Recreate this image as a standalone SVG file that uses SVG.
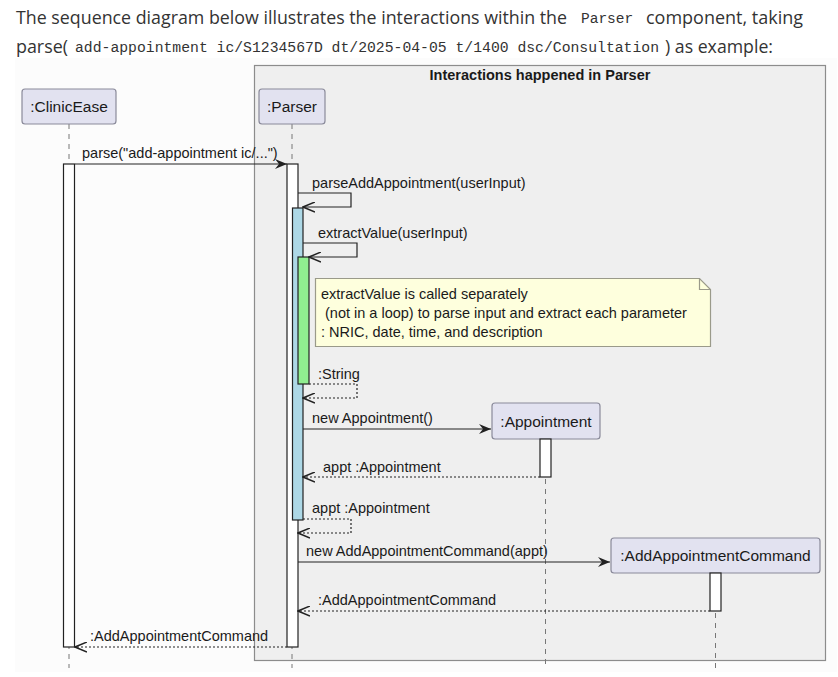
<svg xmlns="http://www.w3.org/2000/svg" width="838" height="677" viewBox="0 0 838 677">
<style>
.hdr{font-family:"Open Sans","Noto Sans",sans-serif;font-size:17.5px;fill:#333}
.code{font-family:"Liberation Mono","DejaVu Sans Mono",monospace;font-size:14.5px;fill:#333}
.t{font-family:"Liberation Sans",Arial,sans-serif;font-size:14.5px;fill:#1a1a1a}
.pt{font-family:"Liberation Sans",Arial,sans-serif;font-size:15.5px;fill:#1a1a1a;text-anchor:middle}
.ttl{font-family:"Liberation Sans",Arial,sans-serif;font-size:14.5px;font-weight:bold;fill:#1a1a1a;text-anchor:middle}
.part{fill:#E2E2F0;stroke:#8a8a9a;stroke-width:1.2}
.life{stroke:#777;stroke-width:1;stroke-dasharray:5,5;fill:none}
.act{fill:#fff;stroke:#222;stroke-width:1.2}
.msg{stroke:#222;stroke-width:1.2;fill:none}
.ret{stroke:#222;stroke-width:1.2;fill:none;stroke-dasharray:2,2}
</style>
<defs>
<marker id="ah" markerUnits="userSpaceOnUse" markerWidth="13" markerHeight="11" viewBox="0 0 13 11" refX="12" refY="5.5" orient="auto">
<path d="M0,0.5 L12,5.5 L0,10.5 L4,5.5 Z" fill="#222"/>
</marker>
<marker id="oh" markerUnits="userSpaceOnUse" markerWidth="13" markerHeight="11" viewBox="0 0 13 11" refX="12" refY="5.5" orient="auto">
<path d="M0,0.5 L12,5.5 L0,10.5" fill="none" stroke="#222" stroke-width="1.5"/>
</marker>
</defs>
<rect x="0" y="0" width="838" height="677" fill="#fff"/>
<g id="header">
<text class="hdr" x="16" y="24" textLength="551" lengthAdjust="spacingAndGlyphs">The sequence diagram below illustrates the interactions within the</text>
<text class="code" x="581" y="23">Parser</text>
<text class="hdr" x="646" y="24" textLength="157" lengthAdjust="spacingAndGlyphs">component, taking</text>
<text class="hdr" x="16" y="53" textLength="52" lengthAdjust="spacingAndGlyphs">parse(</text>
<text class="code" x="75" y="52" textLength="584" lengthAdjust="spacingAndGlyphs">add-appointment ic/S1234567D dt/2025-04-05 t/1400 dsc/Consultation</text>
<text class="hdr" x="665" y="53" textLength="108" lengthAdjust="spacingAndGlyphs">) as example:</text>
</g>
<rect x="15" y="58" width="822" height="614" fill="#FCFCFC"/>
<g id="frame">
<rect x="254.5" y="65.5" width="571" height="595" fill="#EFEFEF" stroke="#8c8c8c" stroke-width="1.2"/>
<text class="ttl" x="540" y="80">Interactions happened in Parser</text>
</g>
<g id="lifelines">
<line class="life" x1="69" y1="124" x2="69" y2="668"/>
<line class="life" x1="292" y1="124" x2="292" y2="668"/>
<line class="life" x1="545.5" y1="439" x2="545.5" y2="668"/>
<line class="life" x1="715.5" y1="573" x2="715.5" y2="668"/>
</g>
<g id="clinicease">
<rect class="part" x="22" y="89" width="94" height="35" rx="3"/>
<text class="pt" x="69" y="112">:ClinicEase</text>
<rect class="act" x="63.5" y="164" width="11" height="483"/>
</g>
<g id="parser">
<rect class="part" x="259" y="89" width="66" height="35" rx="3"/>
<text class="pt" x="292" y="112">:Parser</text>
<rect class="act" x="287" y="164" width="11" height="483"/>
<rect x="292.5" y="208" width="10.5" height="312" fill="#ADD8E6" stroke="#222" stroke-width="1.2"/>
<rect x="298" y="257" width="11" height="127" fill="#90EE90" stroke="#222" stroke-width="1.2"/>
</g>
<g id="appointment">
<rect class="part" x="492" y="403" width="108" height="36" rx="3"/>
<text class="pt" x="546" y="427">:Appointment</text>
<rect class="act" x="540" y="439" width="11" height="38"/>
</g>
<g id="addappointmentcommand">
<rect class="part" x="611" y="538" width="209" height="35" rx="3"/>
<text class="pt" x="715.5" y="561">:AddAppointmentCommand</text>
<rect class="act" x="710" y="573" width="11" height="38"/>
</g>
<g id="note">
<path d="M315.5,278.5 L699.5,278.5 L710.5,289.5 L710.5,346.5 L315.5,346.5 Z" fill="#FEFFDD" stroke="#9a9a8a" stroke-width="1.2"/>
<path d="M699.5,278.5 L699.5,289.5 L710.5,289.5" fill="none" stroke="#9a9a8a" stroke-width="1.2"/>
<text class="t" x="321" y="299">extractValue is called separately</text>
<text class="t" x="325" y="318">(not in a loop) to parse input and extract each parameter</text>
<text class="t" x="321" y="337">: NRIC, date, time, and description</text>
</g>
<g id="connectors">
<line class="msg" x1="75" y1="164" x2="287" y2="164" marker-end="url(#ah)"/>
<text class="t" x="82" y="158">parse("add-appointment ic/...")</text>
<polyline class="msg" points="298,193 351,193 351,207 303,207" marker-end="url(#oh)"/>
<text class="t" x="312" y="188">parseAddAppointment(userInput)</text>
<polyline class="msg" points="303,243 357,243 357,257 309,257" marker-end="url(#oh)"/>
<text class="t" x="318" y="238">extractValue(userInput)</text>
<polyline class="ret" points="309,384 357,384 357,398 303,398" marker-end="url(#oh)"/>
<text class="t" x="318" y="379">:String</text>
<line class="msg" x1="303" y1="429" x2="491" y2="429" marker-end="url(#ah)"/>
<text class="t" x="312" y="423">new Appointment()</text>
<line class="ret" x1="540" y1="477" x2="303" y2="477" marker-end="url(#oh)"/>
<text class="t" x="323" y="472">appt :Appointment</text>
<polyline class="ret" points="303,519 351,519 351,533 298,533" marker-end="url(#oh)"/>
<text class="t" x="312" y="513">appt :Appointment</text>
<line class="msg" x1="298" y1="562" x2="610" y2="562" marker-end="url(#ah)"/>
<text class="t" x="306" y="556">new AddAppointmentCommand(appt)</text>
<line class="ret" x1="710" y1="611" x2="298" y2="611" marker-end="url(#oh)"/>
<text class="t" x="318" y="605">:AddAppointmentCommand</text>
<line class="ret" x1="287" y1="647" x2="75" y2="647" marker-end="url(#oh)"/>
<text class="t" x="90" y="641">:AddAppointmentCommand</text>
</g>
</svg>
